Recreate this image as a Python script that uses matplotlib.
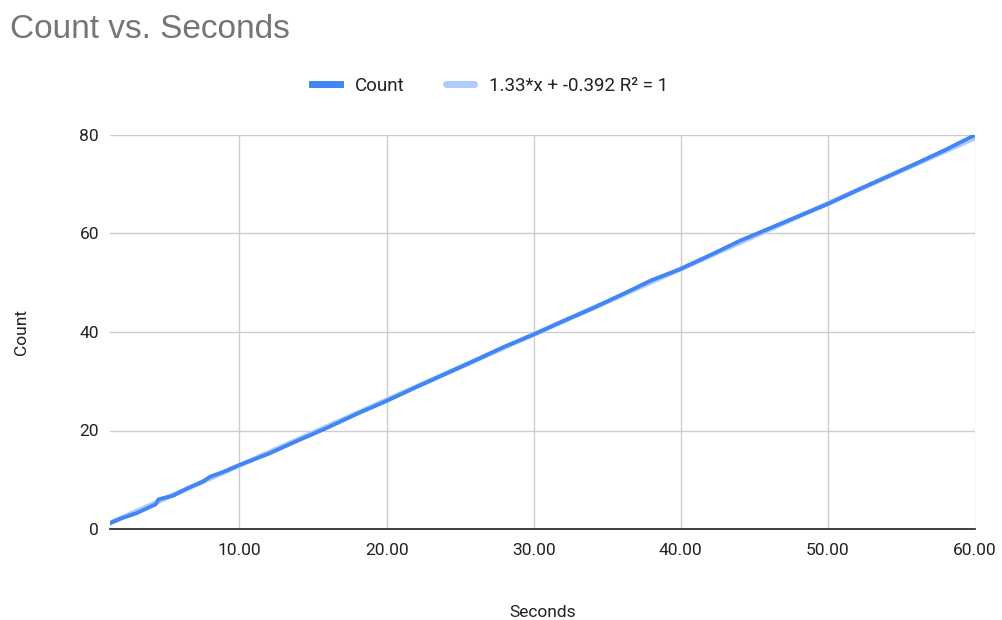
import matplotlib
matplotlib.use("Agg")
import matplotlib.pyplot as plt
import numpy as np

seconds = [1.2, 2.0, 3.0, 4.0, 4.3, 4.5, 5.5, 6.5, 7.5, 8.0, 9.0, 10.0, 12.0, 14.0, 16.0,
           18.0, 20.0, 22.0, 24.0, 26.0, 28.0, 30.0, 32.0, 34.0, 36.0, 38.0, 40.0, 42.0,
           44.0, 46.0, 48.0, 50.0, 52.0, 54.0, 56.0, 58.0, 60.0]
counts = [1.2, 2.2, 3.2, 4.6, 5.0, 6.0, 6.8, 8.3, 9.6, 10.6, 11.7, 13.0, 15.3, 18.0, 20.6,
          23.4, 26.0, 28.8, 31.5, 34.2, 37.0, 39.5, 42.2, 44.8, 47.6, 50.5, 52.8, 55.6,
          58.5, 61.0, 63.5, 66.0, 68.8, 71.5, 74.2, 77.0, 80.0]
trend_slope = 1.33
trend_intercept = -0.392
x_ticks = [10, 20, 30, 40, 50, 60]
x_tick_labels = ["10.00", "20.00", "30.00", "40.00", "50.00", "60.00"]
y_ticks = [0, 20, 40, 60, 80]

W, H = 1003, 620
fig = plt.figure(figsize=(W / 100, H / 100), dpi=100)
ax = fig.add_axes([110 / W, (H - 529) / H, (975 - 110) / W, (529 - 135) / H])

tx = np.array([seconds[0], seconds[-1]])
ax.plot(tx, trend_slope * tx + trend_intercept, color="#aecbfa", lw=3.5, solid_capstyle="round", zorder=2,
        label="1.33*x + -0.392 R² = 1")
ax.plot(seconds, counts, color="#4285f4", lw=2.8, zorder=3, label="Count")

ax.set_xlim(1.2, 60)
ax.set_ylim(0, 80)
ax.set_xticks(x_ticks)
ax.set_xticklabels(x_tick_labels)
ax.set_yticks(y_ticks)
ax.grid(True, color="#cccccc", lw=1)
ax.set_axisbelow(True)
for s in ["top", "right", "left"]:
    ax.spines[s].set_visible(False)
ax.spines["bottom"].set_color("#333333")
ax.spines["bottom"].set_linewidth(1.3)
ax.tick_params(length=0, labelsize=12.5, labelcolor="#222222", pad=8, labelfontfamily="Roboto")
ax.tick_params(axis="x", pad=10)

ax.set_xlabel("Seconds", fontsize=12.5, family="Roboto", color="#222222", labelpad=34)
ax.set_ylabel("Count", fontsize=12.5, family="Roboto", color="#222222", labelpad=36)

fig.text(10 / W, 1 - 30 / H, "Count vs. Seconds", fontsize=24, family="Liberation Sans",
         color="#757575", va="center", ha="left")

h, l = ax.get_legend_handles_labels()
leg = fig.legend(h[::-1], l[::-1], loc="center", bbox_to_anchor=(490 / W, 1 - 86 / H), ncol=2,
                 frameon=False, prop={"family": "Roboto", "size": 13.5}, handlelength=1.5,
                 columnspacing=2.2, handletextpad=0.8)
for t in leg.get_texts():
    t.set_color("#222222")
for lh in leg.get_lines():
    lh.set_linewidth(5)

fig.savefig("out.png", dpi=100, facecolor="white")
